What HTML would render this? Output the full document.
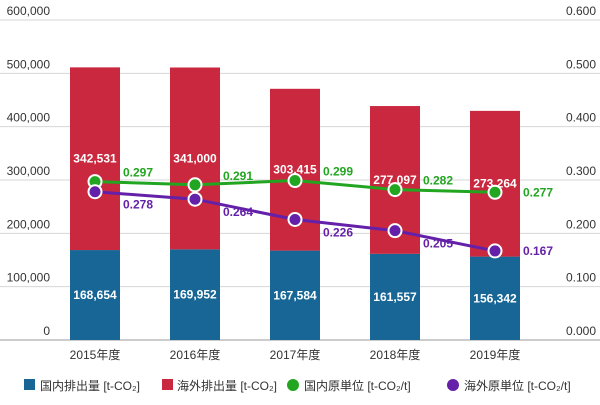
<!DOCTYPE html>
<html><head><meta charset="utf-8"><style>
body{margin:0;background:#fff;font-family:"Liberation Sans","Noto Sans CJK JP",sans-serif}
svg text{font-family:"Liberation Sans","Noto Sans CJK JP",sans-serif}
</style></head><body>
<svg id="c" width="600" height="400"></svg>
<script>
const categories=["2015年度","2016年度","2017年度","2018年度","2019年度"];
const domestic=[168654,169952,167584,161557,156342];
const overseas=[342531,341000,303415,277097,273264];
const domUnit=[0.297,0.291,0.299,0.282,0.277];
const ovsUnit=[0.278,0.264,0.226,0.205,0.167];
const leftTicks=[0,100000,200000,300000,400000,500000,600000];
const rightTicks=[0,0.1,0.2,0.3,0.4,0.5,0.6];
const NS="http://www.w3.org/2000/svg",svg=document.getElementById('c');
const y0=340,y1=20;
const yL=v=>y0-(v/600000)*(y0-y1);
const yR=v=>y0-(v/0.6)*(y0-y1);
const xC=i=>95+i*100;
function mk(t,a,txt){const e=document.createElementNS(NS,t);for(const k in a)e.setAttribute(k,a[k]);if(txt!==undefined)e.textContent=txt;svg.appendChild(e);return e;}
const fmt=n=>n.toLocaleString('en-US');
leftTicks.forEach((v,i)=>{
 const g=mk('line',{x1:0,x2:600,y1:yL(v),y2:yL(v),stroke:v===0?'#ccc':'#d6d6d6','stroke-width':v===0?2:1});
 
 
 const t=mk('text',{x:50,y:yL(v)-5,'text-anchor':'end','font-size':12,fill:'#333'},fmt(v));
 
 
 const r=mk('text',{x:596,y:yR(rightTicks[i])-5,'text-anchor':'end','font-size':12,fill:'#333'},rightTicks[i].toFixed(3));
 
 
});
categories.forEach((c,i)=>{
 const x=xC(i)-25,d=domestic[i],o=overseas[i];
 const b=mk('rect',{x:x,y:yL(d),width:50,height:y0-yL(d),fill:'#176695'});
 
 
 const r=mk('rect',{x:x,y:yL(d+o),width:50,height:yL(d)-yL(d+o),fill:'#c9283e'});
 
 
 const t1=mk('text',{x:xC(i),y:(yL(d)+y0)/2+4,'text-anchor':'middle','font-size':12,'font-weight':'bold',fill:'#fff'},fmt(d));
 
 
 const t2=mk('text',{x:xC(i),y:(yL(d)+yL(d+o))/2+4,'text-anchor':'middle','font-size':12,'font-weight':'bold',fill:'#fff'},fmt(o));
 
 
 const cl=mk('text',{x:xC(i),y:359,'text-anchor':'middle','font-size':12,fill:'#333'},c);
 
 
});
function series(vals,color,name,offY,lastOff){
 const p=mk('polyline',{points:vals.map((v,i)=>xC(i)+','+yR(v)).join(' '),fill:'none',stroke:color,'stroke-width':3});
 
 
 vals.forEach((v,i)=>{
  const c=mk('circle',{cx:xC(i),cy:yR(v),r:6.5,fill:color,stroke:'#fff','stroke-width':2});
  
  
  const last=i===vals.length-1;
  const t=mk('text',{x:xC(i)+43,y:yR(v)+(last?lastOff:offY),'text-anchor':'middle','font-size':12,'font-weight':'bold',fill:color},v.toFixed(3));
  
  
 });
}
series(domUnit,'#22a520','domestic-unit',-5,4);
series(ovsUnit,'#6420a8','overseas-unit',17,4);
const leg=[['rect','#176695',24,'国内排出量 [t-CO₂]',40],['rect','#c9283e',162,'海外排出量 [t-CO₂]',177],['circle','#22a520',293,'国内原単位 [t-CO₂/t]',304],['circle','#6420a8',453,'海外原単位 [t-CO₂/t]',464]];
leg.forEach(l=>{
 const m=l[0]==='rect'?mk('rect',{x:l[2],y:379,width:11,height:11,fill:l[1]}):mk('circle',{cx:l[2],cy:385,r:6,fill:l[1]});
 
 
 const t=mk('text',{x:l[4],y:390,'font-size':12,fill:'#333'},l[3]);
 
 
});
</script>
</body></html>
